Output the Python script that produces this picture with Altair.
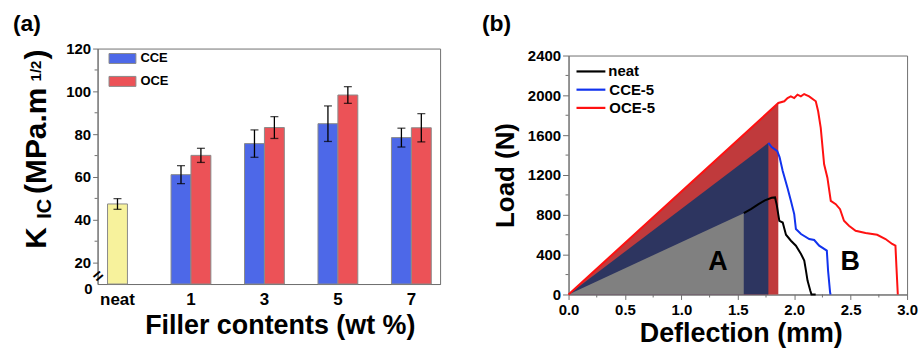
import altair as alt
import pandas as pd

FONT = "Liberation Sans"

# ---------------- Panel (a) data ----------------
categories = ["neat", "1", "3", "5", "7"]
filled_cats = ["1", "3", "5", "7"]
series_names = ["CCE", "OCE"]
neat_mean = [47.4]
neat_err = [2.5]
cce_mean = [61.1, 75.6, 84.9, 78.4]
cce_err = [4.2, 6.4, 8.3, 4.4]
oce_mean = [70.1, 83.1, 98.3, 83.0]
oce_err = [3.3, 5.1, 3.9, 6.6]
y_major_a = [20, 40, 60, 80, 100, 120]
y_minor_a = [30, 50, 70, 90, 110]

# ---------------- Panel (b) data ----------------
line_names = ["neat", "CCE-5", "OCE-5"]
line_colors = ["#000000", "#1133ee", "#ff1111"]
neat_x = [1.553, 1.62, 1.68, 1.74, 1.80, 1.83, 1.845, 1.868, 1.898, 1.927, 1.971,
          2.015, 2.06, 2.089, 2.104, 2.118, 2.142, 2.153, 2.19]
neat_y = [817, 860, 905, 945, 972, 975, 900, 740, 723, 600, 540,
          490, 407, 340, 240, 140, 40, 0, 0]
cce_x = [1.771, 1.80, 1.85, 1.87, 1.898, 1.94, 1.971, 2.0, 2.015, 2.06, 2.133,
         2.177, 2.221, 2.289, 2.30, 2.318, 2.322]
cce_y = [1523, 1480, 1440, 1380, 1240, 1073, 940, 807, 657, 607, 557,
         547, 490, 440, 240, 20, 0]
oce_x = [0.0, 1.859, 1.912, 1.941, 1.97, 2.0, 2.029, 2.059, 2.088, 2.132, 2.191,
         2.212, 2.235, 2.265, 2.294, 2.324, 2.368, 2.406, 2.441, 2.485, 2.544,
         2.632, 2.735, 2.809, 2.868, 2.897, 2.906, 2.918]
oce_y = [0, 1923, 1940, 1973, 1990, 1973, 2007, 1990, 2013, 1990, 1940,
         1840, 1673, 1307, 1173, 940, 907, 857, 740, 690, 640,
         617, 600, 557, 507, 490, 273, 0]
# elastic regions (triangles) under each curve
gray_x, gray_y = [0.0, 1.553], [0, 817]
navy_x, navy_y = [0.0, 1.771], [0, 1523]
red_x, red_y = [0.0, 1.859], [0, 1923]
x_major_b = [0.0, 0.5, 1.0, 1.5, 2.0, 2.5, 3.0]
x_minor_b = [0.25, 0.75, 1.25, 1.75, 2.25, 2.75]
y_major_b = [0, 400, 800, 1200, 1600, 2000, 2400]
y_minor_b = [200, 600, 1000, 1400, 1800, 2200]

# ---------------- styles ----------------
AXIS_GRAY = "#707070"
BLUE_BAR = "#4d68e8"
RED_BAR = "#ec5257"
YELLOW_BAR = "#f7f29c"
BAR_STROKE = "#8a8a8a"

W_A, H_A = 344, 236.5
W_B, H_B = 340, 240

# ---------------- build tables ----------------
bars = pd.DataFrame({
    "cat": filled_cats * 2,
    "series": ["CCE"] * 4 + ["OCE"] * 4,
    "mean": cce_mean + oce_mean,
    "err": cce_err + oce_err,
})
bars["lo"] = bars["mean"] - bars["err"]
bars["hi"] = bars["mean"] + bars["err"]

neat = pd.DataFrame({"cat": ["neat"], "mean": neat_mean, "err": neat_err})
neat["lo"] = neat["mean"] - neat["err"]
neat["hi"] = neat["mean"] + neat["err"]

x_scale_a = alt.Scale(domain=categories, paddingInner=0.458, paddingOuter=0.06, align=0)
y_scale_a = alt.Scale(domain=[10, 120], nice=False, zero=False)
xo_scale = alt.Scale(domain=series_names, paddingInner=0, paddingOuter=0)

x_axis_a = alt.Axis(title="Filler contents (wt %)", titleFontSize=27, titleFontWeight="bold",
                    titleX=183, titleY=50, titleBaseline="alphabetic", titleAlign="center",
                    labelAngle=0, ticks=False, labelFontSize=17, labelFontWeight="bold",
                    labelPadding=8, domainColor=AXIS_GRAY, labelColor="black", titleColor="black")
y_axis_a = alt.Axis(values=y_major_a, title=None, grid=False, tickSize=5, tickColor=AXIS_GRAY,
                    domainColor=AXIS_GRAY, labelFontSize=15, labelFontWeight="bold",
                    labelPadding=2, labelColor="black", labelOverlap=False)

XA = alt.X("cat:N", scale=x_scale_a, axis=x_axis_a)
XO = alt.XOffset("series:N", scale=xo_scale)


def YA(field):
    return alt.Y(field, scale=y_scale_a, axis=y_axis_a)


legend_a = alt.Legend(title=None, orient="none", legendX=11, legendY=-4,
                      symbolType="M-1,-0.37L1,-0.37L1,0.37L-1,0.37Z", symbolSize=729,
                      symbolStrokeColor=BAR_STROKE, symbolStrokeWidth=1, symbolOpacity=1,
                      labelFontSize=13, labelFontWeight="bold", labelOffset=4, labelColor="black",
                      rowPadding=2)

bar_layer = alt.Chart(bars).mark_bar(stroke=BAR_STROKE, strokeWidth=1).encode(
    x=XA, xOffset=XO, y=YA("mean:Q"), y2=alt.datum(10),
    color=alt.Color("series:N", scale=alt.Scale(domain=series_names, range=[BLUE_BAR, RED_BAR]),
                    legend=legend_a),
)
neat_layer = alt.Chart(neat).mark_bar(width=20, color=YELLOW_BAR, stroke=BAR_STROKE, strokeWidth=1).encode(
    x=XA, y=YA("mean:Q"), y2=alt.datum(10),
)
err_rule = alt.Chart(bars).mark_rule(color="black", strokeWidth=1.3).encode(
    x=XA, xOffset=XO, y=YA("lo:Q"), y2="hi:Q",
)
err_hi = alt.Chart(bars).mark_tick(color="black", size=8, thickness=1.3).encode(
    x=XA, xOffset=XO, y=YA("hi:Q"),
)
err_lo = alt.Chart(bars).mark_tick(color="black", size=8, thickness=1.3).encode(
    x=XA, xOffset=XO, y=YA("lo:Q"),
)
neat_rule = alt.Chart(neat).mark_rule(color="black", strokeWidth=1.3).encode(
    x=XA, y=YA("lo:Q"), y2="hi:Q",
)
neat_hi = alt.Chart(neat).mark_tick(color="black", size=8, thickness=1.3).encode(
    x=XA, y=YA("hi:Q"),
)
neat_lo = alt.Chart(neat).mark_tick(color="black", size=8, thickness=1.3).encode(
    x=XA, y=YA("lo:Q"),
)
minor_a = alt.Chart(pd.DataFrame({"v": y_minor_a})).mark_rule(color=AXIS_GRAY, strokeWidth=1).encode(
    y=YA("v:Q"), x=alt.value(-3), x2=alt.value(0),
)


def label(text, x, y, size, angle=0, align="left", baseline="alphabetic", weight="bold", color="black"):
    kw = dict(font=FONT, fontSize=size, fontWeight=weight, align=align,
              baseline=baseline, color=color)
    if angle:
        kw["angle"] = angle
    return alt.Chart(pd.DataFrame({"t": [text]})).mark_text(**kw).encode(
        x=alt.value(x), y=alt.value(y), text="t:N")


texts_a = [
    label("(a)", -85, -36, 23, baseline="top"),
    label("K", -52, 201, 30, angle=270),
    label("IC", -47, 171, 20, angle=270),
    label("(MPa.m", -52, 146, 30, angle=270),
    label("1/2", -57, 33, 15, angle=270),
    label(")", -52, 11, 30, angle=270),
    label("0", -5, 242, 15, align="right", baseline="middle"),
    label("=", 1, 229, 17, angle=320, align="center", baseline="middle"),
]

left = alt.layer(bar_layer, neat_layer, err_rule, err_hi, err_lo, neat_rule, neat_hi, neat_lo,
                 minor_a, *texts_a).properties(
    width=W_A, height=H_A, view=alt.ViewBackground(stroke=AXIS_GRAY, strokeWidth=1))

# ---------------- panel (b) ----------------
x_scale_b = alt.Scale(domain=[0, 3], nice=False, zero=False)
y_scale_b = alt.Scale(domain=[0, 2400], nice=False)
x_axis_b = alt.Axis(values=x_major_b, format=".1f", title="Deflection (mm)", titleFontSize=27,
                    titleFontWeight="bold", titleX=173, titleY=47.5, titleBaseline="alphabetic",
                    titleAlign="center", grid=False, tickSize=5, tickColor=AXIS_GRAY,
                    domainColor=AXIS_GRAY, labelFontSize=15, labelFontWeight="bold",
                    labelPadding=3, labelColor="black", titleColor="black", labelFlush=False,
                    labelOverlap=False)
y_axis_b = alt.Axis(values=y_major_b, format="d", title="Load (N)", titleFontSize=26,
                    titleFontWeight="bold", titleAngle=270, titleX=-55, titleY=120,
                    titleBaseline="alphabetic", titleAlign="center", grid=False, tickSize=6,
                    tickColor=AXIS_GRAY, domainColor=AXIS_GRAY, labelFontSize=15,
                    labelFontWeight="bold", labelPadding=2, labelColor="black",
                    titleColor="black", labelFlush=False, labelOverlap=False)


def XB(field):
    return alt.X(field, scale=x_scale_b, axis=x_axis_b)


def YB(field):
    return alt.Y(field, scale=y_scale_b, axis=y_axis_b)


def tri(xs, ys, color):
    return alt.Chart(pd.DataFrame({"x": xs, "y": ys})).mark_area(color=color, opacity=1).encode(
        x=XB("x:Q"), y=YB("y:Q"))


area_red = tri(red_x, red_y, "#c03a3c")
area_navy = tri(navy_x, navy_y, "#2d3560")
area_gray = tri(gray_x, gray_y, "#808080")

rows = []
for name, xs, ys in [("neat", neat_x, neat_y), ("CCE-5", cce_x, cce_y), ("OCE-5", oce_x, oce_y)]:
    for i, (xv, yv) in enumerate(zip(xs, ys)):
        rows.append({"series": name, "x": xv, "y": yv, "i": i})
lines = pd.DataFrame(rows)

line_layer = alt.Chart(lines).mark_line(strokeWidth=2).encode(
    x=XB("x:Q"), y=YB("y:Q"),
    color=alt.Color("series:N", scale=alt.Scale(domain=line_names, range=line_colors), legend=None),
    order="i:Q",
)
minor_bx = alt.Chart(pd.DataFrame({"v": x_minor_b})).mark_rule(color=AXIS_GRAY).encode(
    x=XB("v:Q"), y=alt.value(H_B), y2=alt.value(H_B + 3))
minor_by = alt.Chart(pd.DataFrame({"v": y_minor_b})).mark_rule(color=AXIS_GRAY).encode(
    y=YB("v:Q"), x=alt.value(-3), x2=alt.value(0))

# legend for the curves (line sample + label per series)
legend_b = []
for k, (name, col) in enumerate(zip(line_names, line_colors)):
    yy = 16 + 18.3 * k
    legend_b.append(
        alt.Chart(pd.DataFrame({"s": [name]})).mark_rule(color=col, strokeWidth=2.2).encode(
            x=alt.value(8), x2=alt.value(37), y=alt.value(yy)))
    legend_b.append(label(name, 40 if k == 0 else 41, yy, 15, baseline="middle"))

texts_b = [
    label("(b)", -87, -43, 23, baseline="top"),
    label("A", 150, 207, 27, align="center", baseline="middle"),
    label("B", 283, 207, 27, align="center", baseline="middle"),
]

right = alt.layer(area_red, area_navy, area_gray, line_layer, minor_bx, minor_by,
                  *legend_b, *texts_b).properties(
    width=W_B, height=H_B, view=alt.ViewBackground(stroke=AXIS_GRAY, strokeWidth=1))

spacer = alt.Chart(pd.DataFrame({"a": [0]})).mark_point(opacity=0).properties(
    width=W_B, height=7, view=alt.ViewBackground(stroke=None))

right_col = alt.vconcat(spacer, right, spacing=0, bounds="flush").resolve_scale(color="independent")

chart = alt.hconcat(
    left, right_col, spacing=129, bounds="flush",
).resolve_scale(color="independent").resolve_legend(color="independent").properties(
    padding={"left": 12, "top": 11, "right": 4, "bottom": 4},
).configure(font=FONT).configure_view(strokeWidth=1)

chart.save("out.html", embed_options={"renderer": "svg", "actions": False})
